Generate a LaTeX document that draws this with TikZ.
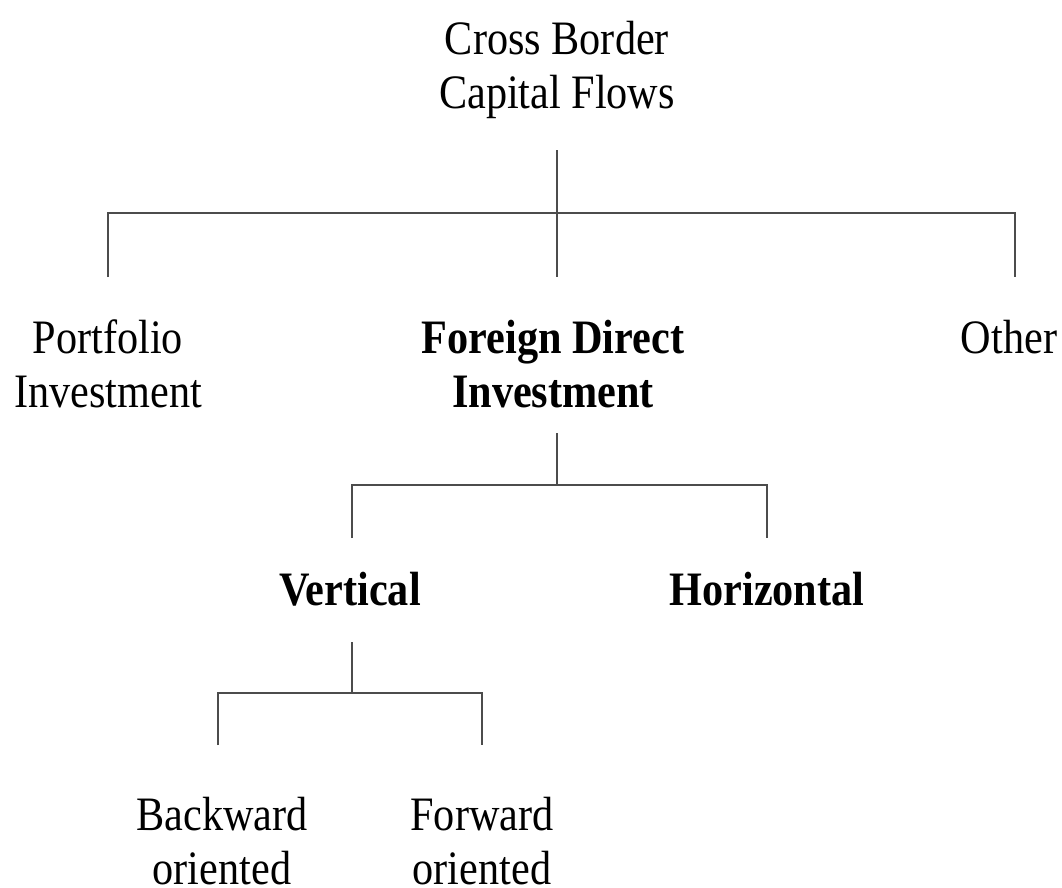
\documentclass[tikz,border=0pt]{standalone}
\usepackage{fontspec}
\setmainfont{Liberation Serif}[FakeStretch=0.88]
\tikzset{
  label text/.style={align=center,inner sep=0pt,anchor=base,
    font=\fontsize{48}{54}\selectfont},
  label bold/.style={label text,font=\fontsize{48}{54}\selectfont\bfseries},
  branch/.style={draw=black!70,line width=1.6pt}
}
\begin{document}
\begin{tikzpicture}[x=1pt,y=-1pt]
  \useasboundingbox (0,0) rectangle (1062,887);
  % base anchor = last line of the text
  \draw
    (557,108) node[label text] (flows){Cross Border\\Capital Flows}
    (108,407) node[label text] (portfolio){Portfolio\\Investment}
    (553,407) node[label bold] (fdi){Foreign Direct\\Investment}
    (1009,353) node[label text] (other){Other}
    (350,605) node[label bold] (vertical){Vertical}
    (767,605) node[label bold] (horizontal){Horizontal}
    (222,884) node[label text] (backward){Backward\\oriented}
    (482,884) node[label text] (forward){Forward\\oriented};
  \coordinate (a0) at (557,150);
  \coordinate (a1) at (557,213);
  \coordinate (a2) at (108,213);
  \coordinate (a3) at (1015,213);
  \coordinate (a4) at (108,277);
  \coordinate (a5) at (557,277);
  \coordinate (a6) at (1015,277);
  \coordinate (b0) at (557,433);
  \coordinate (b1) at (557,485);
  \coordinate (b2) at (352,485);
  \coordinate (b3) at (767,485);
  \coordinate (b4) at (352,538);
  \coordinate (b5) at (767,538);
  \coordinate (c0) at (352,642);
  \coordinate (c1) at (352,693);
  \coordinate (c2) at (218,693);
  \coordinate (c3) at (482,693);
  \coordinate (c4) at (218,745);
  \coordinate (c5) at (482,745);
  \begin{scope}[branch]
    \draw (a0) to (a5);
    \draw (a4) to (a2) to (a3) to (a6);
    \draw (b0) to (b1);
    \draw (b4) to (b2) to (b3) to (b5);
    \draw (c0) to (c1);
    \draw (c4) to (c2) to (c3) to (c5);
  \end{scope}
\end{tikzpicture}
\end{document}
